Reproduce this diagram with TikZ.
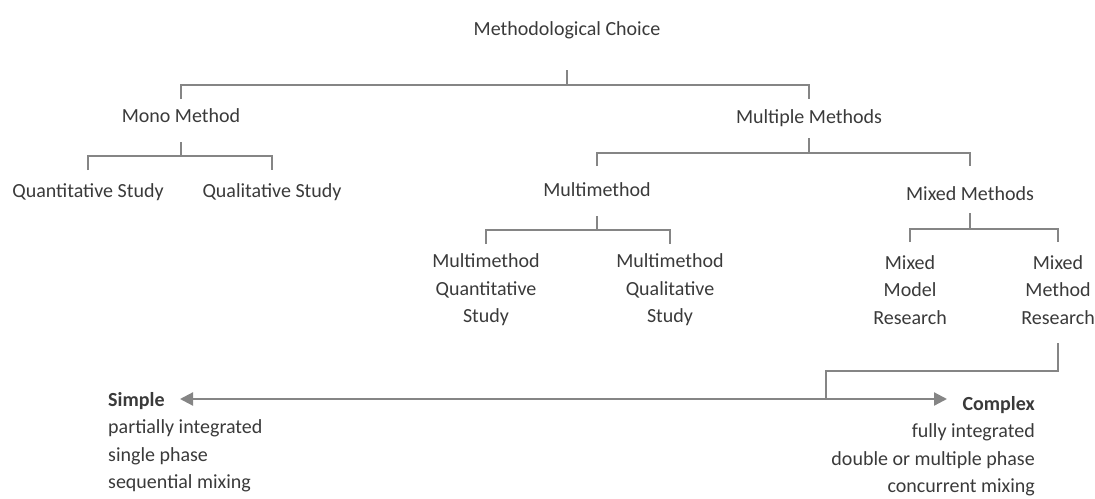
\documentclass[tikz,border=0pt]{standalone}
\usepackage{fontspec}
\setmainfont{Carlito}
\usetikzlibrary{arrows.meta}
\definecolor{chu}{HTML}{3A3A3A}
\definecolor{vach}{HTML}{858585}
\tikzset{
	muc/.style={text=chu, align=center, inner sep=0pt, font=\fontsize{20}{27.5}\selectfont},
	noi/.style={draw=vach, line width=1.6pt},
	mui/.style={draw=vach, line width=2.2pt, {Triangle[length=13pt,width=13pt]}-{Triangle[length=13pt,width=13pt]}}
}
% nhánh: cha, con trái, con phải, y đầu, y thanh ngang, y cuối
\newcommand\nhanh[6]{%
	\draw[noi] (#1 |- 0,#4) -- (#1 |- 0,#5);
	\draw[noi] (#2 |- 0,#6) -- (#2 |- 0,#5) -- (#3 |- 0,#5) -- (#3 |- 0,#6);}
\begin{document}
\begin{tikzpicture}[x=1pt, y=-1pt]
	\useasboundingbox (0,0) rectangle (1095,498);
	\node[muc] (choice) at (567,30) {Methodological Choice};
	\node[muc] (mono) at (181,116) {Mono Method};
	\node[muc] (multiple) at (809,118) {Multiple Methods};
	\node[muc] (quant) at (88,192) {Quantitative Study};
	\node[muc] (qual) at (272,192) {Qualitative Study};
	\node[muc] (multim) at (597,190) {Multimethod};
	\node[muc] (mixed) at (970,194) {Mixed Methods};
	\node[muc] (mquant) at (486,290) {Multimethod\\Quantitative\\Study};
	\node[muc] (mqual) at (670,290) {Multimethod\\Qualitative\\Study};
	\node[muc] (mmodel) at (910,290) {Mixed\\Model\\Research};
	\node[muc] (mmethod) at (1058,290) {Mixed\\Method\\Research};
	\nhanh{choice}{mono}{multiple}{70}{85}{99}
	\nhanh{mono}{quant}{qual}{142}{156}{170}
	\nhanh{multiple}{multim}{mixed}{138}{153}{166}
	\nhanh{multim}{mquant}{mqual}{216}{230}{244}
	\nhanh{mixed}{mmodel}{mmethod}{213}{229}{242}
	% trục đơn giản -- phức tạp
	\coordinate (trai) at (180,399);
	\coordinate (phai) at (947,399);
	\coordinate (gap) at (826,399);
	\draw[mui] (trai) -- (phai);
	\draw[noi] (mmethod |- 0,343) -- (mmethod |- 0,371) -| (gap);
	\node[muc, anchor=west, align=left] (simple) at (108,442) {\textbf{Simple}\\partially integrated\\single phase\\sequential mixing};
	\node[muc, anchor=east, align=right] (complex) at (1035,446) {\textbf{Complex}\\fully integrated\\double or multiple phase\\concurrent mixing};
\end{tikzpicture}
\end{document}
